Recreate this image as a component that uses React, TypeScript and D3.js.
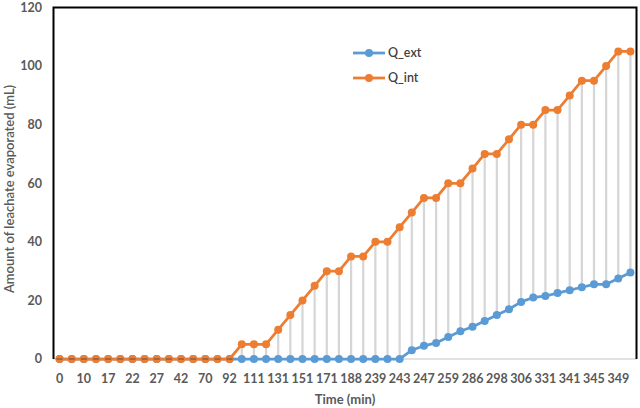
import * as React from "react";
import * as d3 from "d3";

// time categories (min); only every second one is labelled on the axis
const times = [
  "0", "5", "10", "13", "17", "20", "22", "25", "27", "35", "42", "55",
  "70", "80", "92", "100", "111", "121", "131", "141", "151", "161", "171", "180",
  "188", "210", "239", "241", "243", "245", "247", "253", "259", "272", "286", "292",
  "298", "302", "306", "318", "331", "336", "341", "343", "345", "347", "349", "352",
];

const qExt = [
  0, 0, 0, 0, 0, 0, 0, 0, 0, 0, 0, 0,
  0, 0, 0, 0, 0, 0, 0, 0, 0, 0, 0, 0,
  0, 0, 0, 0, 0, 3, 4.5, 5.5, 7.5, 9.5, 11, 13,
  15, 17, 19.5, 21, 21.5, 22.5, 23.5, 24.5, 25.5, 25.5, 27.5, 29.5,
];

const qInt = [
  0, 0, 0, 0, 0, 0, 0, 0, 0, 0, 0, 0,
  0, 0, 0, 5, 5, 5, 10, 15, 20, 25, 30, 30,
  35, 35, 40, 40, 45, 50, 55, 55, 60, 60, 65, 70,
  70, 75, 80, 80, 85, 85, 90, 95, 95, 100, 105, 105,
];

const yTicks = [0, 20, 40, 60, 80, 100, 120];

const series = [
  { name: "Q_ext", values: qExt, color: "#5B9BD5" },
  { name: "Q_int", values: qInt, color: "#ED7D31" },
];

const W = 640;
const H = 408;
const margin = { top: 7.5, right: 3.5, bottom: 49, left: 53.5 };
const font = "Lato, 'DejaVu Sans', sans-serif";

export default function App() {
  const ref = React.useRef<SVGSVGElement>(null);

  React.useEffect(() => {
    document.body.style.margin = "0";
    const svg = d3.select(ref.current);
    svg.selectAll("*").remove();

    const x = d3.scaleBand().domain(times).range([margin.left, W - margin.right]).padding(0);
    const y = d3.scaleLinear().domain([0, 120]).range([H - margin.bottom, margin.top]);
    const cx = (t: string) => (x(t) as number) + x.bandwidth() / 2;

    svg.append("rect").attr("width", W).attr("height", H).attr("fill", "#fff");

    // x axis line (light gray)
    svg.append("line")
      .attr("x1", margin.left).attr("x2", W - margin.right)
      .attr("y1", y(0)).attr("y2", y(0))
      .attr("stroke", "#D9D9D9").attr("stroke-width", 1.5);

    // high-low lines
    const hl = svg.append("g");
    times.forEach((t, i) => {
      const lo = Math.min(qExt[i], qInt[i]);
      const hi = Math.max(qExt[i], qInt[i]);
      if (hi > lo) {
        hl.append("line")
          .attr("x1", cx(t)).attr("x2", cx(t))
          .attr("y1", y(lo)).attr("y2", y(hi))
          .attr("stroke", "#D6D6D6").attr("stroke-width", 2.25);
      }
    });

    const line = d3.line<number>()
      .x((d, i) => cx(times[i]))
      .y((d) => y(d));

    series.forEach((s) => {
      svg.append("path")
        .datum(s.values)
        .attr("d", line)
        .attr("fill", "none")
        .attr("stroke", s.color)
        .attr("stroke-width", 2.75)
        .attr("stroke-linejoin", "round");
      svg.append("g").selectAll("circle")
        .data(s.values)
        .join("circle")
        .attr("cx", (d, i) => cx(times[i]))
        .attr("cy", (d) => y(d))
        .attr("r", 4)
        .attr("fill", s.color);
    });

    // small dash where both series coincide
    const dash = svg.append("g");
    times.forEach((t, i) => {
      if (qExt[i] === qInt[i]) {
        dash.append("line")
          .attr("x1", cx(t) - 3).attr("x2", cx(t) + 3)
          .attr("y1", y(qInt[i])).attr("y2", y(qInt[i]))
          .attr("stroke", "#7F5A45").attr("stroke-width", 1.3);
      }
    });

    // frame: left, top, right in black
    svg.append("path")
      .attr("d", `M${margin.left},${y(0)}V${margin.top}H${W - margin.right}V${y(0)}`)
      .attr("fill", "none").attr("stroke", "#000").attr("stroke-width", 2);

    // y tick labels
    svg.append("g").selectAll("text")
      .data(yTicks)
      .join("text")
      .attr("x", 42)
      .attr("y", (d) => y(d))
      .attr("dy", "0.35em")
      .attr("text-anchor", "end")
      .attr("font-family", font)
      .attr("font-size", 12.5)
      .attr("font-weight", 700)
      .attr("fill", "#595959")
      .text((d) => d);

    // x tick labels (every second category)
    svg.append("g").selectAll("text")
      .data(times.filter((t, i) => i % 2 === 0))
      .join("text")
      .attr("x", (d) => cx(d))
      .attr("y", 383)
      .attr("text-anchor", "middle")
      .attr("font-family", font)
      .attr("font-size", 12.5)
      .attr("font-weight", 700)
      .attr("fill", "#595959")
      .text((d) => d);

    svg.append("text")
      .attr("x", (margin.left + W - margin.right) / 2)
      .attr("y", 404)
      .attr("text-anchor", "middle")
      .attr("font-family", font)
      .attr("font-size", 13)
      .attr("font-weight", 700)
      .attr("fill", "#595959")
      .text("Time (min)");

    svg.append("text")
      .attr("transform", "translate(14,189) rotate(-90)")
      .attr("text-anchor", "middle")
      .attr("font-family", font)
      .attr("font-size", 13)
      .attr("font-weight", 600)
      .attr("fill", "#595959")
      .text("Amount of leachate evaporated (mL)");

    // legend
    const leg = svg.append("g");
    series.forEach((s, i) => {
      const ly = 53 + i * 25;
      leg.append("line")
        .attr("x1", 353).attr("x2", 385)
        .attr("y1", ly).attr("y2", ly)
        .attr("stroke", s.color).attr("stroke-width", 2.75);
      leg.append("circle").attr("cx", 369).attr("cy", ly).attr("r", 4).attr("fill", s.color);
      leg.append("text")
        .attr("x", 388).attr("y", ly).attr("dy", "0.35em")
        .attr("font-family", font)
        .attr("font-size", 12.5)
        .attr("font-weight", 600)
        .attr("fill", "#404040")
        .text(s.name);
    });
  }, []);

  return <svg ref={ref} width={W} height={H} style={{ display: "block" }} />;
}
